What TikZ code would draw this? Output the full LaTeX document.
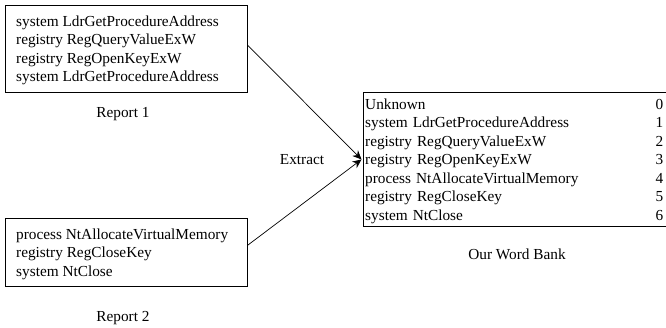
\documentclass[tikz,border=0pt]{standalone}
\usepackage{fontspec}
\setmainfont{Liberation Serif}
\usetikzlibrary{arrows.meta}
\begin{document}
\begin{tikzpicture}[x=1pt,y=-1pt,
  every node/.style={font=\fontsize{15.3}{18.5}\selectfont},
  box/.style={draw, line width=0.9pt, rectangle, inner sep=0pt, anchor=north west},
  list/.style={align=left, inner sep=0pt, anchor=west},
  link/.style={line width=0.7pt, -{Stealth[length=9pt,width=8pt]}},
  caption/.style={inner sep=0pt}]
\useasboundingbox (0,0) rectangle (666,327);
\clip (0,0) rectangle (666,327);
% boxes
\node[box, minimum width=241.5, minimum height=87] (r1) at (5,4.5) {};
\node[box, minimum width=241.5, minimum height=68] (r2) at (5,218) {};
\node[box, minimum width=320, minimum height=134] (bank) at (362.5,92) {};
% box contents
\node[list] (r1text) at (16,50.5) {system LdrGetProcedureAddress\\registry RegQueryValueExW\\registry RegOpenKeyExW\\system LdrGetProcedureAddress};
\node[list] (r2text) at (16,254) {process NtAllocateVirtualMemory\\registry RegCloseKey\\system NtClose};
\node[list, text width=298] (banktext) at (365,161) {Unknown\hspace{\fill}0\\system LdrGetProcedureAddress\hspace{\fill}1\\registry RegQueryValueExW\hspace{\fill}2\\registry RegOpenKeyExW\hspace{\fill}3\\process NtAllocateVirtualMemory\hspace{\fill}4\\registry RegCloseKey\hspace{\fill}5\\system NtClose\hspace{\fill}6};
% captions
\node[caption] (l1) at (123,114) {Report 1};
\node[caption] (l2) at (123,318) {Report 2};
\node[caption] (ex) at (302,160) {Extract};
\node[caption] (wb) at (517,254) {Our Word Bank};
% connectors
\draw[link] ([yshift=3.5pt]r1.east) -- ([xshift=-1pt]bank.west);
\draw[link] ([yshift=7pt]r2.east) -- ([xshift=-1pt]bank.west);
\end{tikzpicture}
\end{document}
